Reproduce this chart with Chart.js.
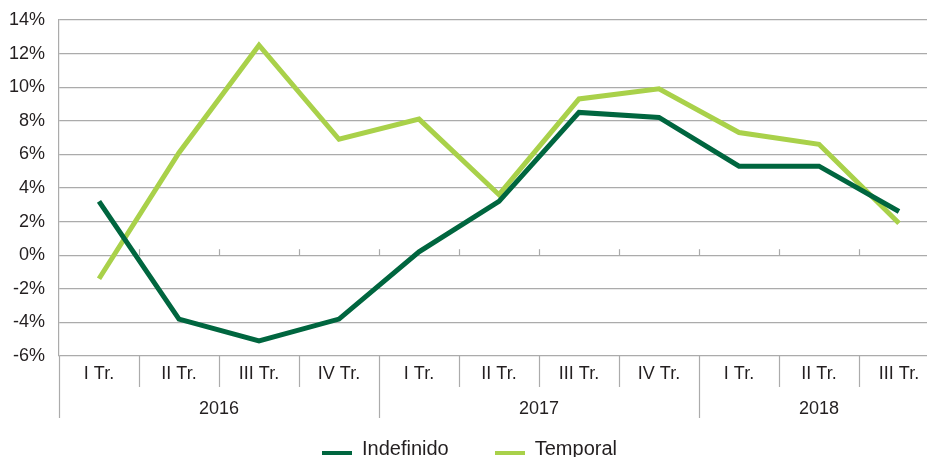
<!DOCTYPE html>
<html>
<head>
<meta charset="utf-8">
<script src="https://cdn.jsdelivr.net/npm/chart.js@4/dist/chart.umd.min.js"></script>
<style>
  html, body { margin: 0; padding: 0; overflow: hidden; background: #fff; }
  #wrap { width: 945px; height: 469px; }
</style>
</head>
<body>
<div id="wrap"><canvas id="myChart"></canvas></div>
<script>
// datos
const categories = ['I Tr.', 'II Tr.', 'III Tr.', 'IV Tr.', 'I Tr.', 'II Tr.', 'III Tr.', 'IV Tr.', 'I Tr.', 'II Tr.', 'III Tr.'];
const years = ['2016', '2017', '2018'];
const yearSpans = [4, 4, 3];
const indefinido = [3.2, -3.8, -5.1, -3.8, 0.2, 3.2, 8.5, 8.2, 5.3, 5.3, 2.6];
const temporal = [-1.4, 6.1, 12.5, 6.9, 8.1, 3.6, 9.3, 9.9, 7.3, 6.6, 1.9];

const gridColor = '#ababab';
const textColor = '#231f20';
const fontFamily = '"Liberation Sans", Arial, sans-serif';

// marca de la leyenda: linea gruesa algo por debajo del centro del texto
function legendMark(color) {
  const c = document.createElement('canvas');
  c.width = 30;
  c.height = 20;
  const g = c.getContext('2d');
  g.fillStyle = color;
  g.fillRect(0, 12, 30, 4);
  return c;
}

// separadores del eje de categorias, años y marcas en el 0
const axisExtras = {
  id: 'axisExtras',
  beforeDatasetsDraw(chart) {
    const { ctx, chartArea } = chart;
    const x = chart.scales.x;
    const y = chart.scales.y;
    const half = (x.getPixelForValue(1) - x.getPixelForValue(0)) / 2;
    const y0 = y.getPixelForValue(0);
    const bottom = chartArea.bottom;
    ctx.save();
    ctx.strokeStyle = gridColor;
    ctx.lineWidth = 1.2;
    // marcas pequeñas sobre la linea del 0
    for (let i = 0; i < categories.length - 1; i++) {
      const bx = Math.round(x.getPixelForValue(i) + half) + 0.5;
      ctx.beginPath();
      ctx.moveTo(bx, y0 - 6);
      ctx.lineTo(bx, y0);
      ctx.stroke();
    }
    // separadores debajo
    const yearStarts = [0];
    yearSpans.forEach((s, i) => yearStarts.push(yearStarts[i] + s));
    for (let i = 0; i <= categories.length; i++) {
      const bx = Math.round(x.getPixelForValue(i) - half) + 0.5;
      const isYear = yearStarts.includes(i);
      ctx.beginPath();
      ctx.moveTo(bx, bottom);
      ctx.lineTo(bx, bottom + (isYear ? 62 : 31));
      ctx.stroke();
    }
    // etiquetas de año
    ctx.fillStyle = textColor;
    ctx.font = '18px ' + fontFamily;
    ctx.textAlign = 'center';
    ctx.textBaseline = 'middle';
    years.forEach((yr, i) => {
      const a = x.getPixelForValue(yearStarts[i]) - half;
      const b = x.getPixelForValue(yearStarts[i + 1] - 1) + half;
      ctx.fillText(yr, (a + b) / 2, bottom + 53);
    });
    ctx.restore();
  }
};

const ctx = document.getElementById('myChart').getContext('2d');

new Chart(ctx, {
  type: 'line',
  data: {
    labels: categories,
    datasets: [{
      label: 'Indefinido',
      data: indefinido,
      borderColor: '#00663f',
      backgroundColor: '#00663f',
      borderWidth: 5,
      pointRadius: 0,
      tension: 0,
      fill: false
    }, {
      label: 'Temporal',
      data: temporal,
      borderColor: '#a9d14a',
      backgroundColor: '#a9d14a',
      borderWidth: 5,
      pointRadius: 0,
      tension: 0,
      fill: false
    }]
  },
  options: {
    responsive: true,
    maintainAspectRatio: false,
    animation: false,
    layout: { padding: { top: 20, right: 6, left: 0, bottom: 0 } },
    plugins: {
      tooltip: { enabled: false },
      legend: {
        position: 'bottom',
        labels: {
          color: textColor,
          font: { family: fontFamily, size: 20 },
          usePointStyle: true,
          pointStyleWidth: 30,
          padding: 46,
          generateLabels(chart) {
            return Chart.defaults.plugins.legend.labels.generateLabels(chart).map(l => {
              l.pointStyle = legendMark(l.strokeStyle);
              l.lineWidth = 0;
              return l;
            });
          }
        }
      }
    },
    scales: {
      x: {
        offset: true,
        grid: { display: false, drawTicks: false },
        border: { display: false },
        ticks: {
          color: textColor,
          font: { family: fontFamily, size: 18 },
          padding: 7,
          maxRotation: 0,
          autoSkip: false
        },
        afterFit(scale) { scale.height = 37; }
      },
      y: {
        min: -6,
        max: 14,
        grid: { color: gridColor, lineWidth: 1.2, drawTicks: false },
        border: { display: true, color: gridColor, width: 1.2 },
        ticks: {
          stepSize: 2,
          color: textColor,
          font: { family: fontFamily, size: 18 },
          padding: 14,
          callback: v => v + '%'
        },
        afterFit(scale) {
          scale.width = 59;
          scale.paddingTop = 0;
        }
      }
    }
  },
  plugins: [axisExtras]
});
</script>
</body>
</html>
